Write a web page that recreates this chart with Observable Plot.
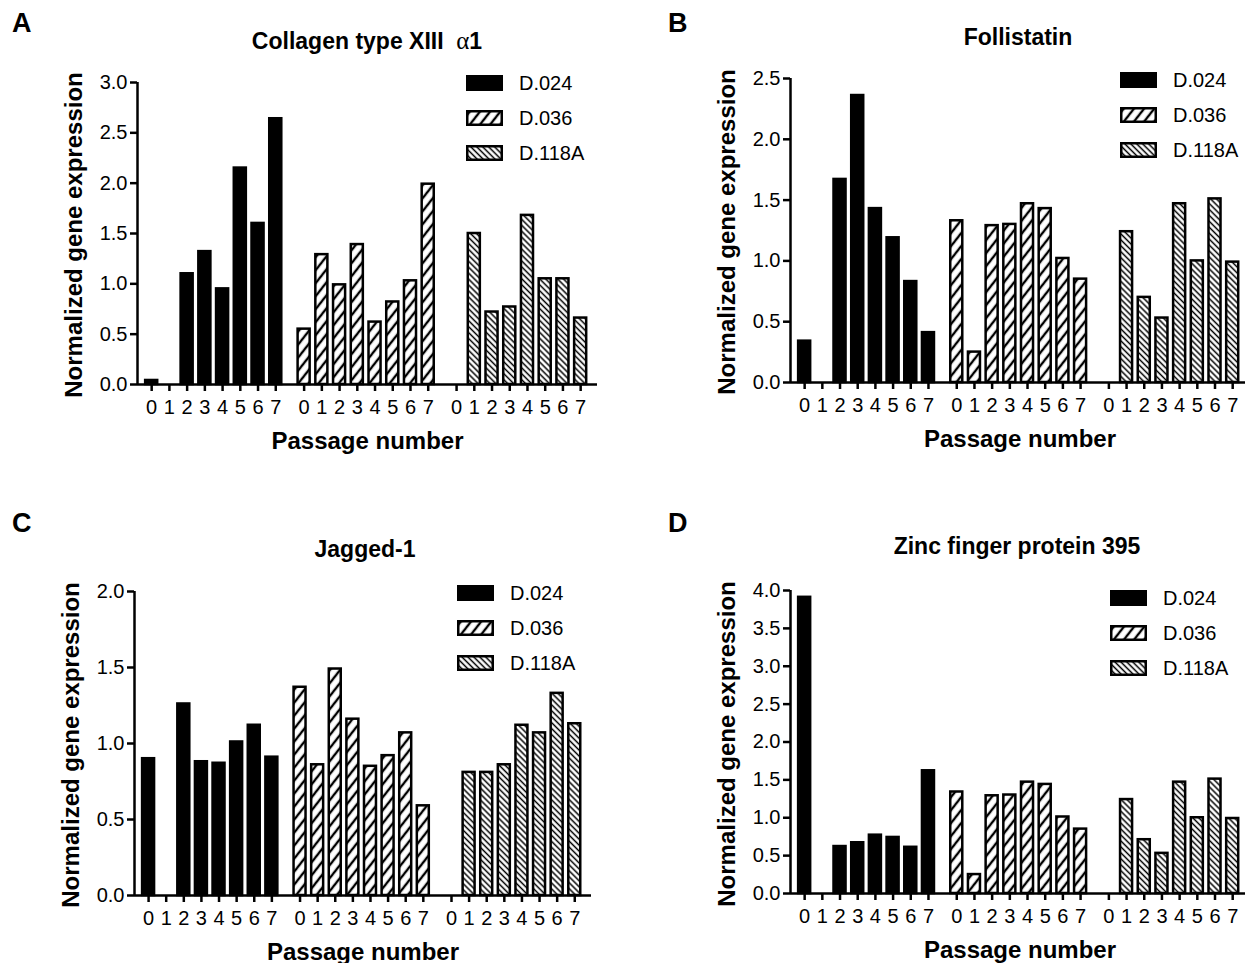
<!DOCTYPE html>
<html><head><meta charset="utf-8">
<script src="https://cdn.jsdelivr.net/npm/d3@7"></script>
<script src="https://cdn.jsdelivr.net/npm/@observablehq/plot@0.6"></script>
<style>
body{margin:0;background:#fff;overflow:hidden;font-family:"Liberation Sans",Arial,sans-serif;color:#000;}
#root{position:relative;width:1245px;height:963px;overflow:hidden;}
.panel{position:absolute;}
.letter{position:absolute;font-weight:bold;font-size:27px;line-height:1;}
.title{position:absolute;font-weight:bold;font-size:23px;line-height:1;transform:translate(-50%,-50%);white-space:nowrap;}
.ylabel{position:absolute;font-weight:bold;font-size:24px;line-height:1;transform:translate(-50%,-50%) rotate(-90deg);white-space:nowrap;}
.legend{position:absolute;font-size:20px;line-height:1;}
.legend .row{display:flex;align-items:center;height:35px;}
.legend svg{margin-right:16px;}
</style></head><body>
<div id="root">
<svg width="0" height="0" style="position:absolute;left:0;top:0">
<defs>
<pattern id="hatch036" patternUnits="userSpaceOnUse" width="8" height="8" patternTransform="rotate(38)">
<rect width="8" height="8" fill="#fff"/>
<line x1="4" y1="-1" x2="4" y2="9" stroke="#000" stroke-width="2.4"/>
</pattern>
<pattern id="hatch118" patternUnits="userSpaceOnUse" width="4.2" height="4.2" patternTransform="rotate(-45)">
<rect width="4.2" height="4.2" fill="#fff"/>
<line x1="2.1" y1="-1" x2="2.1" y2="6" stroke="#000" stroke-width="1.5"/>
</pattern>
</defs>
</svg>
</div>
<script>
// ---- data ----
const passages = [0, 1, 2, 3, 4, 5, 6, 7];
const donors = ["D.024", "D.036", "D.118A"];

const collagenD024  = [0.04, null, 1.10, 1.32, 0.95, 2.15, 1.60, 2.64];
const collagenD036  = [0.55, 1.29, 0.99, 1.39, 0.62, 0.82, 1.03, 1.99];
const collagenD118A = [null, 1.50, 0.72, 0.77, 1.68, 1.05, 1.05, 0.66];

const follistatinD024  = [0.34, null, 1.67, 2.36, 1.43, 1.19, 0.83, 0.41];
const follistatinD036  = [1.33, 0.25, 1.29, 1.30, 1.47, 1.43, 1.02, 0.85];
const follistatinD118A = [null, 1.24, 0.70, 0.53, 1.47, 1.00, 1.51, 0.99];

const jaggedD024  = [0.90, null, 1.26, 0.88, 0.87, 1.01, 1.12, 0.91];
const jaggedD036  = [1.37, 0.86, 1.49, 1.16, 0.85, 0.92, 1.07, 0.59];
const jaggedD118A = [null, 0.81, 0.81, 0.86, 1.12, 1.07, 1.33, 1.13];

const zincD024  = [3.91, null, 0.62, 0.67, 0.77, 0.74, 0.61, 1.62];
const zincD036  = [1.34, 0.25, 1.29, 1.30, 1.47, 1.44, 1.01, 0.85];
const zincD118A = [null, 1.24, 0.71, 0.53, 1.47, 1.00, 1.51, 0.99];

const yTickValuesA = [0, 0.5, 1.0, 1.5, 2.0, 2.5, 3.0];
const yTickValuesB = [0, 0.5, 1.0, 1.5, 2.0, 2.5];
const yTickValuesC = [0, 0.5, 1.0, 1.5, 2.0];
const yTickValuesD = [0, 0.5, 1.0, 1.5, 2.0, 2.5, 3.0, 3.5, 4.0];

const xLabel = "Passage number";
const yLabel = "Normalized gene expression";

// ---- layout / styles ----
const fills = ["#000", "url(#hatch036)", "url(#hatch118)"];
const GROUP = 8.6;
const XMIN = -0.8, XMAX = 2 * GROUP + 7 + 0.95;

const panels = [
  {letter: "A", title: 'Collagen type XIII <span style="font-family:\'Liberation Serif\',serif;font-weight:normal;font-size:25px">&nbsp;α</span>1',
   series: [collagenD024, collagenD036, collagenD118A], yMax: 3.0, yTicks: yTickValuesA,
   left: 0, axisX: 137, yTop: 82, y0: 384, xEnd: 597,
   letterPos: [12, 10], titlePos: [367, 40], legendPos: [466, 65]},
  {letter: "B", title: "Follistatin",
   series: [follistatinD024, follistatinD036, follistatinD118A], yMax: 2.5, yTicks: yTickValuesB,
   left: 640, axisX: 790, yTop: 78, y0: 382, xEnd: 1249,
   letterPos: [668, 10], titlePos: [1018, 37], legendPos: [1120, 62]},
  {letter: "C", title: "Jagged-1",
   series: [jaggedD024, jaggedD036, jaggedD118A], yMax: 2.0, yTicks: yTickValuesC,
   left: 0, axisX: 134, yTop: 591, y0: 895, xEnd: 591,
   letterPos: [12, 510], titlePos: [365, 549], legendPos: [457, 575]},
  {letter: "D", title: "Zinc finger protein 395",
   series: [zincD024, zincD036, zincD118A], yMax: 4.0, yTicks: yTickValuesD,
   left: 640, axisX: 790, yTop: 590, y0: 893, xEnd: 1249,
   letterPos: [668, 510], titlePos: [1017, 546], legendPos: [1110, 580]}
];

const root = document.getElementById("root");

const tickPositions = [];
const tickLabel = new Map();
donors.forEach((d, g) => passages.forEach(p => {
  const pos = g * GROUP + p;
  tickPositions.push(pos);
  tickLabel.set(pos, String(p));
}));

for (const P of panels) {
  const rows = [];
  donors.forEach((donor, g) => passages.forEach((p, i) => {
    const v = P.series[g][i];
    if (v != null) rows.push({donor, g, p, pos: g * GROUP + p, v});
  }));
  const top = P.yTop - 25;
  const marginTop = 25, marginBottom = 90;
  const height = (P.y0 - P.yTop) + marginTop + marginBottom;
  const width = P.xEnd - P.left + 4;
  const plot = Plot.plot({
    width, height,
    marginLeft: P.axisX - P.left, marginRight: 4, marginTop, marginBottom,
    style: {fontFamily: "'Liberation Sans', Arial, sans-serif", fontSize: "20px", color: "#000", background: "transparent", overflow: "visible"},
    x: {domain: [XMIN, XMAX], axis: null},
    y: {domain: [0, P.yMax], axis: null},
    marks: [
      Plot.rectY(rows, {x1: d => d.pos - 0.34, x2: d => d.pos + 0.34, y: "v",
        fill: d => fills[d.g], stroke: "#000", strokeWidth: 2.5}),
      Plot.ruleY([0], {stroke: "#000", strokeWidth: 2.5}),
      Plot.ruleX([XMIN], {y1: 0, y2: P.yMax, stroke: "#000", strokeWidth: 2.5}),
      Plot.axisY({ticks: P.yTicks, tickFormat: d => d.toFixed(1), tickSize: 7, tickPadding: 3,
        strokeWidth: 2.5, fontSize: 20, label: null}),
      Plot.axisX({ticks: tickPositions, tickFormat: d => tickLabel.get(d), tickSize: 7, tickPadding: 8,
        strokeWidth: 2.5, fontSize: 20, label: null}),
      Plot.text([xLabel], {frameAnchor: "bottom", dy: 64, fontWeight: "bold", fontSize: 24})
    ]
  });
  plot.classList.add("panel");
  plot.style.left = P.left + "px";
  plot.style.top = top + "px";
  root.appendChild(plot);

  const yl = document.createElement("div");
  yl.className = "ylabel";
  yl.textContent = yLabel;
  yl.style.left = (P.axisX - 63) + "px";
  yl.style.top = ((P.yTop + P.y0) / 2 + 2) + "px";
  root.appendChild(yl);

  const letter = document.createElement("div");
  letter.className = "letter";
  letter.textContent = P.letter;
  letter.style.left = P.letterPos[0] + "px";
  letter.style.top = P.letterPos[1] + "px";
  root.appendChild(letter);

  const title = document.createElement("div");
  title.className = "title";
  title.innerHTML = P.title;
  title.style.left = P.titlePos[0] + "px";
  title.style.top = P.titlePos[1] + "px";
  root.appendChild(title);

  const legend = document.createElement("div");
  legend.className = "legend";
  legend.style.left = P.legendPos[0] + "px";
  legend.style.top = P.legendPos[1] + "px";
  donors.forEach((d, g) => {
    const row = document.createElement("div");
    row.className = "row";
    row.innerHTML = `<svg width="37" height="16"><rect x="1.25" y="1.25" width="34.5" height="13.5" fill="${fills[g]}" stroke="#000" stroke-width="2.5"/></svg><span>${d}</span>`;
    legend.appendChild(row);
  });
  root.appendChild(legend);
}
</script>
</body></html>
